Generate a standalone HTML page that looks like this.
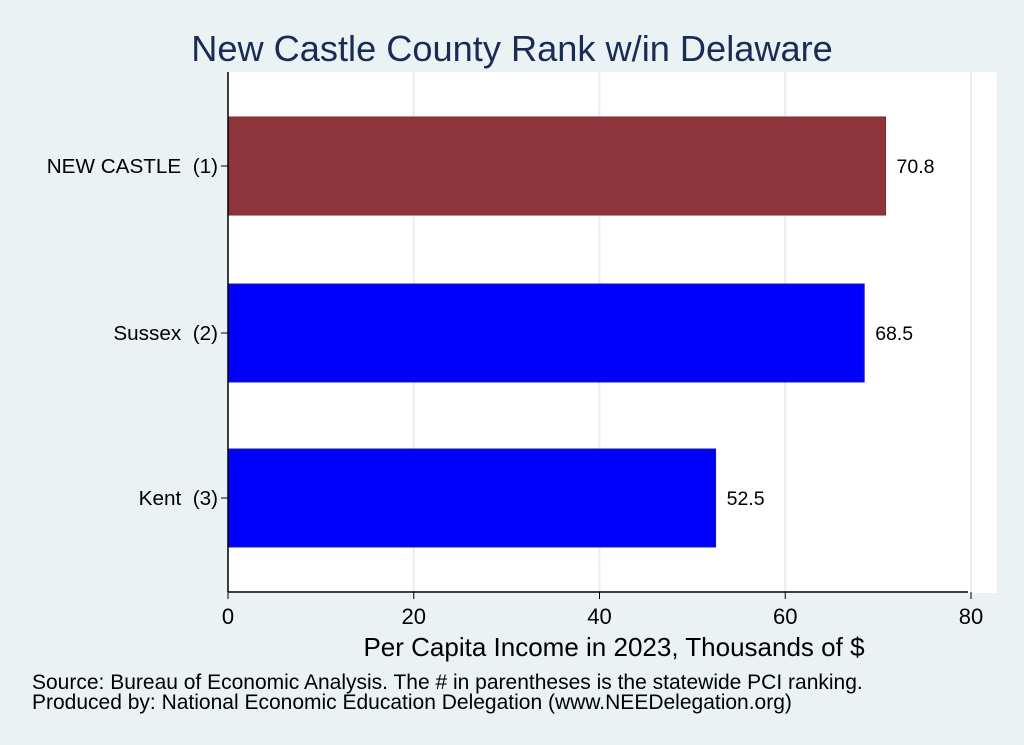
<!DOCTYPE html>
<html><head><meta charset="utf-8"><style>
body{margin:0;background:#eaf2f3;}
svg{display:block;font-family:"Liberation Sans",sans-serif;}
</style></head><body>
<svg width="1024" height="745">
<rect x="0" y="0" width="1024" height="745" fill="#eaf2f3"/>
<rect x="228" y="72" width="769" height="521" fill="#ffffff"/>
<text x="512" y="61" text-anchor="middle" font-size="36.2" fill="#1a2b55">New Castle County Rank w/in Delaware</text>
<g id="grid"></g><g id="bars"></g><g id="axes"></g>
<text x="614" y="656" text-anchor="middle" font-size="26" fill="#000">Per Capita Income in 2023, Thousands of $</text>
<text x="32" y="689" font-size="21" fill="#000">Source: Bureau of Economic Analysis. The # in parentheses is the statewide PCI ranking.</text>
<text x="32" y="709" font-size="21" fill="#000">Produced by: National Economic Education Delegation (www.NEEDelegation.org)</text>
</svg>
<script>
const categories=["NEW CASTLE  (1)","Sussex  (2)","Kent  (3)"];
const values=[70.8,68.5,52.5];
const labels=["70.8","68.5","52.5"];
const colors=["#8e353c","#0000ff","#0000ff"];
const ticks=[0,20,40,60,80];
const NS="http://www.w3.org/2000/svg";
const x=v=>228+v*(971-228)/80;
const bandTop=[117,284,449], bandH=98;
function mk(t,a,p){const e=document.createElementNS(NS,t);for(const k in a)e.setAttribute(k,a[k]);document.getElementById(p).appendChild(e);return e;}
ticks.forEach((t,i)=>{
 if(t>0){const g=mk('line',{x1:x(t),x2:x(t),y1:72,y2:592,stroke:'#e6eef0','stroke-width':2},'grid');
 
 }
 const tk=mk('line',{x1:x(t),x2:x(t),y1:592,y2:599,stroke:'#000'},'axes');
 
 
 const tl=mk('text',{x:x(t),y:624,'text-anchor':'middle','font-size':22},'axes');tl.textContent=t;
 
 
});
categories.forEach((c,i)=>{
 const y=bandTop[i];
 const r=mk('rect',{x:x(0),y:y,width:x(values[i])-x(0),height:bandH,fill:colors[i],stroke:i==0?'#7a2a30':'#1a1aa0','stroke-width':1},'bars');
 
 
 const v=mk('text',{x:x(values[i])+11,y:y+bandH/2+7,'font-size':19.5},'bars');v.textContent=labels[i];
 
 
 const cl=mk('text',{x:218,y:y+bandH/2+7,'text-anchor':'end','font-size':20.7,'xml:space':'preserve',style:'white-space:pre'},'axes');cl.textContent=c;
 
 
 const ct=mk('line',{x1:221,x2:228,y1:y+bandH/2,y2:y+bandH/2,stroke:'#000'},'axes');
 
 
});
const ya=mk('line',{x1:228,x2:228,y1:72,y2:592,stroke:'#000','stroke-width':1.5},'axes');


const xa=mk('line',{x1:228,x2:968,y1:592,y2:592,stroke:'#000','stroke-width':1.5},'axes');


</script>
</body></html>
